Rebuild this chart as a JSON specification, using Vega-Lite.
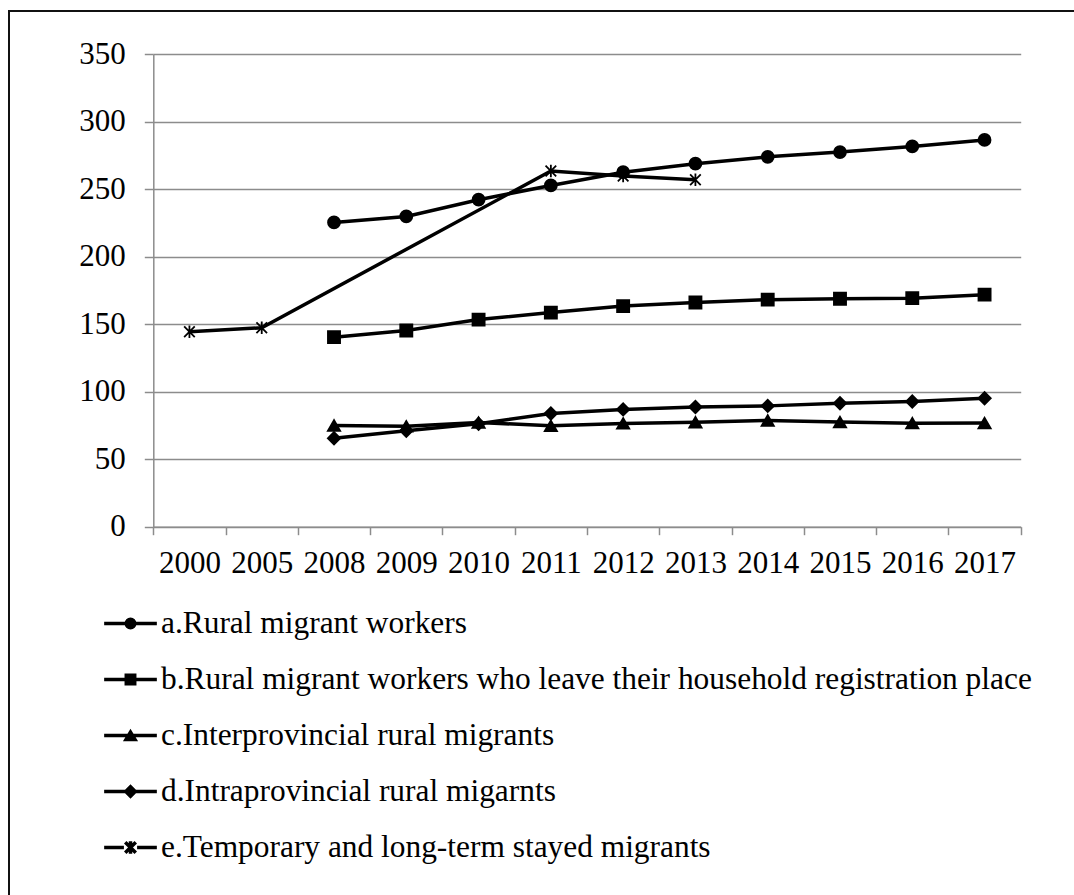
{
  "$schema": "https://vega.github.io/schema/vega-lite/v6.json",
  "width": 1080,
  "height": 892,
  "padding": {"left": 9, "top": 11, "right": -15, "bottom": -8},
  "autosize": {"type": "none"},
  "background": "white",
  "config": {
    "view": {"stroke": "#111111", "strokeWidth": 2},
    "font": "Liberation Serif"
  },
  "data": {
    "values": [
      {"year": "2008", "series": "a.Rural migrant workers", "value": 225.4},
      {"year": "2009", "series": "a.Rural migrant workers", "value": 229.8},
      {"year": "2010", "series": "a.Rural migrant workers", "value": 242.2},
      {"year": "2011", "series": "a.Rural migrant workers", "value": 252.8},
      {"year": "2012", "series": "a.Rural migrant workers", "value": 262.6},
      {"year": "2013", "series": "a.Rural migrant workers", "value": 268.9},
      {"year": "2014", "series": "a.Rural migrant workers", "value": 274.0},
      {"year": "2015", "series": "a.Rural migrant workers", "value": 277.5},
      {"year": "2016", "series": "a.Rural migrant workers", "value": 281.7},
      {"year": "2017", "series": "a.Rural migrant workers", "value": 286.5},
      {"year": "2008", "series": "b.Rural migrant workers who leave their household registration place", "value": 140.4},
      {"year": "2009", "series": "b.Rural migrant workers who leave their household registration place", "value": 145.3},
      {"year": "2010", "series": "b.Rural migrant workers who leave their household registration place", "value": 153.4},
      {"year": "2011", "series": "b.Rural migrant workers who leave their household registration place", "value": 158.6},
      {"year": "2012", "series": "b.Rural migrant workers who leave their household registration place", "value": 163.4},
      {"year": "2013", "series": "b.Rural migrant workers who leave their household registration place", "value": 166.1},
      {"year": "2014", "series": "b.Rural migrant workers who leave their household registration place", "value": 168.2},
      {"year": "2015", "series": "b.Rural migrant workers who leave their household registration place", "value": 168.8},
      {"year": "2016", "series": "b.Rural migrant workers who leave their household registration place", "value": 169.3},
      {"year": "2017", "series": "b.Rural migrant workers who leave their household registration place", "value": 171.9},
      {"year": "2008", "series": "c.Interprovincial rural migrants", "value": 75.0},
      {"year": "2009", "series": "c.Interprovincial rural migrants", "value": 74.4},
      {"year": "2010", "series": "c.Interprovincial rural migrants", "value": 77.2},
      {"year": "2011", "series": "c.Interprovincial rural migrants", "value": 74.7},
      {"year": "2012", "series": "c.Interprovincial rural migrants", "value": 76.5},
      {"year": "2013", "series": "c.Interprovincial rural migrants", "value": 77.4},
      {"year": "2014", "series": "c.Interprovincial rural migrants", "value": 78.7},
      {"year": "2015", "series": "c.Interprovincial rural migrants", "value": 77.5},
      {"year": "2016", "series": "c.Interprovincial rural migrants", "value": 76.7},
      {"year": "2017", "series": "c.Interprovincial rural migrants", "value": 76.8},
      {"year": "2008", "series": "d.Intraprovincial rural migarnts", "value": 65.5},
      {"year": "2009", "series": "d.Intraprovincial rural migarnts", "value": 71.0},
      {"year": "2010", "series": "d.Intraprovincial rural migarnts", "value": 76.2},
      {"year": "2011", "series": "d.Intraprovincial rural migarnts", "value": 83.9},
      {"year": "2012", "series": "d.Intraprovincial rural migarnts", "value": 86.9},
      {"year": "2013", "series": "d.Intraprovincial rural migarnts", "value": 88.7},
      {"year": "2014", "series": "d.Intraprovincial rural migarnts", "value": 89.5},
      {"year": "2015", "series": "d.Intraprovincial rural migarnts", "value": 91.4},
      {"year": "2016", "series": "d.Intraprovincial rural migarnts", "value": 92.7},
      {"year": "2017", "series": "d.Intraprovincial rural migarnts", "value": 95.1},
      {"year": "2000", "series": "e.Temporary and long-term stayed migrants", "value": 144.4},
      {"year": "2005", "series": "e.Temporary and long-term stayed migrants", "value": 147.4},
      {"year": "2011", "series": "e.Temporary and long-term stayed migrants", "value": 263.5},
      {"year": "2012", "series": "e.Temporary and long-term stayed migrants", "value": 259.8},
      {"year": "2013", "series": "e.Temporary and long-term stayed migrants", "value": 257.0}
    ]
  },
  "encoding": {
    "x": {
      "field": "year",
      "type": "ordinal",
      "scale": {
        "type": "band",
        "domain": ["2000", "2005", "2008", "2009", "2010", "2011", "2012", "2013", "2014", "2015", "2016", "2017"],
        "range": [144.3, 1011.7],
        "paddingInner": 0,
        "paddingOuter": 0
      },
      "axis": {
        "title": null,
        "orient": "bottom",
        "offset": -376.3,
        "labelAngle": 0,
        "tickBand": "extent",
        "grid": false,
        "domainColor": "#8c8c8c",
        "domainWidth": 1.5,
        "tickColor": "#8c8c8c",
        "tickWidth": 1.5,
        "tickSize": 8,
        "labelFont": "Liberation Serif",
        "labelFontSize": 31,
        "labelColor": "black",
        "labelPadding": 14,
        "labelOverlap": false
      }
    },
    "y": {
      "field": "value",
      "type": "quantitative",
      "scale": {"domain": [0, 350], "range": [515.7, 43.2], "nice": false, "zero": true},
      "axis": {
        "title": null,
        "orient": "left",
        "offset": -144.3,
        "values": [0, 50, 100, 150, 200, 250, 300, 350],
        "grid": true,
        "gridColor": "#8c8c8c",
        "gridWidth": 1.5,
        "domainColor": "#8c8c8c",
        "domainWidth": 1.5,
        "tickColor": "#8c8c8c",
        "tickWidth": 1.5,
        "tickSize": 9,
        "labelFont": "Liberation Serif",
        "labelFontSize": 31,
        "labelColor": "black",
        "labelPadding": 19
      }
    }
  },
  "layer": [
    {
      "mark": {"type": "line", "color": "black", "strokeWidth": 3.5},
      "encoding": {"detail": {"field": "series", "type": "nominal"}}
    },
    {
      "mark": {"type": "point", "filled": true, "fill": "black", "stroke": "black", "strokeWidth": 1.8, "opacity": 1},
      "encoding": {
        "shape": {
          "field": "series",
          "type": "nominal",
          "scale": {
            "domain": ["a.Rural migrant workers", "b.Rural migrant workers who leave their household registration place", "c.Interprovincial rural migrants", "d.Intraprovincial rural migarnts", "e.Temporary and long-term stayed migrants"],
            "range": ["circle", "square", "triangle-up", "diamond", "M0,-1V1M-0.85,-0.85L0.85,0.85M-0.85,0.85L0.85,-0.85"]
          },
          "legend": null
        },
        "size": {
          "field": "series",
          "type": "nominal",
          "scale": {
            "domain": ["a.Rural migrant workers", "b.Rural migrant workers who leave their household registration place", "c.Interprovincial rural migrants", "d.Intraprovincial rural migarnts", "e.Temporary and long-term stayed migrants"],
            "range": [143, 156, 170, 156, 180]
          },
          "legend": null
        }
      }
    },
    {
      "transform": [{"filter": "false"}],
      "mark": {"type": "point", "filled": false, "color": "black", "strokeWidth": 3.5, "size": 2777, "opacity": 1},
      "encoding": {
        "shape": {
          "field": "series",
          "type": "nominal",
          "scale": {
            "domain": ["a.Rural migrant workers", "b.Rural migrant workers who leave their household registration place", "c.Interprovincial rural migrants", "d.Intraprovincial rural migarnts", "e.Temporary and long-term stayed migrants"],
            "range": [
              "M-1,0H1M-0.16,0A0.16,0.16,0,1,1,0.16,0A0.16,0.16,0,1,1,-0.16,0ZM-0.05,0A0.05,0.05,0,1,1,0.05,0A0.05,0.05,0,1,1,-0.05,0Z",
              "M-1,0H1M-0.16,-0.16H0.16V0.16H-0.16ZM-0.05,-0.05H0.05V0.05H-0.05Z",
              "M-1,0H1M0,-0.13L0.17,0.15L-0.17,0.15ZM0,0.02L0.05,0.1L-0.05,0.1Z",
              "M-1,0H1M0,-0.18L0.18,0L0,0.18L-0.18,0ZM0,-0.06L0.06,0L0,0.06L-0.06,0Z",
              "M-1,0H-0.25M0.25,0H1M0,-0.24V0.24M-0.2,-0.2L0.2,0.2M-0.2,0.2L0.2,-0.2"
            ]
          },
          "legend": {
            "orient": "none",
            "legendX": 93,
            "legendY": 584,
            "title": null,
            "direction": "vertical",
            "symbolSize": 2777,
            "symbolStrokeWidth": 3.5,
            "symbolStrokeColor": "black",
            "symbolFillColor": "black",
            "labelFont": "Liberation Serif",
            "labelFontSize": 31.4,
            "labelColor": "black",
            "labelLimit": 2000,
            "labelOffset": 2,
            "rowPadding": 12.0,
            "padding": 0,
            "offset": 0,
            "encode": {
              "symbols": {
                "update": {
                  "stroke": {"value": "black"},
                  "strokeWidth": {"value": 3.5},
                  "opacity": {"value": 1}
                }
              }
            }
          }
        }
      }
    }
  ],
  "resolve": {"scale": {"shape": "independent", "size": "independent"}}
}
